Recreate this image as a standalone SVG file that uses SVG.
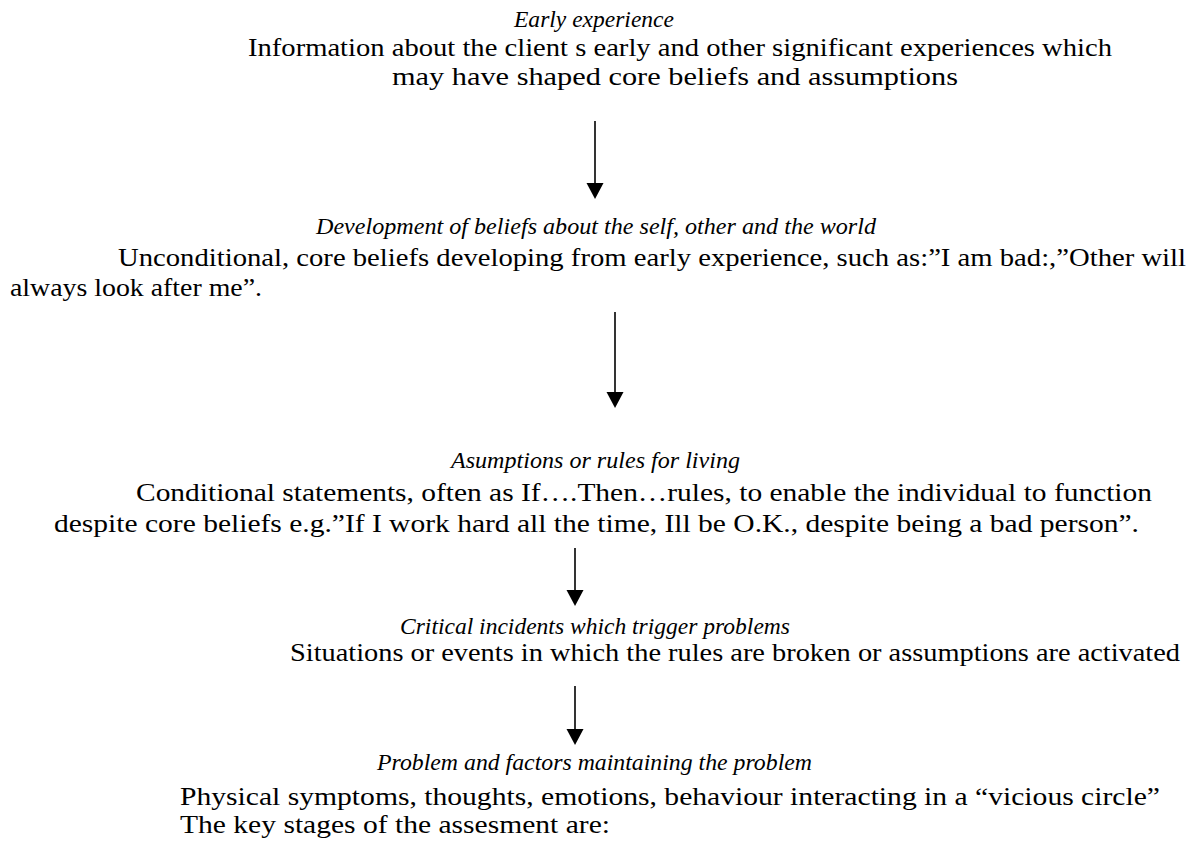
<svg xmlns="http://www.w3.org/2000/svg" width="1193" height="841" viewBox="0 0 1193 841">
<style>
.h{font-family:"Liberation Serif","Times New Roman",serif;font-style:italic;font-size:23px;fill:#000}
.b{font-family:"Liberation Serif","Times New Roman",serif;font-size:25px;fill:#000}
.t{font-family:"Liberation Serif","Times New Roman",serif;font-size:25px;fill:#000}
.c{stroke:#000;stroke-width:1.6;fill:none}
.a{fill:#000}
</style>
<rect width="1193" height="841" fill="#fff"/>
<g id="n1">
<text class="h" x="514" y="27" textLength="160" lengthAdjust="spacingAndGlyphs">Early experience</text>
<text class="b" x="248" y="56" textLength="864" lengthAdjust="spacingAndGlyphs">Information about the client s early and other significant experiences which</text>
<text class="b" x="392" y="85" textLength="566" lengthAdjust="spacingAndGlyphs">may have shaped core beliefs and assumptions</text>
</g>
<g id="n2">
<text class="h" x="316" y="234" textLength="560" lengthAdjust="spacingAndGlyphs">Development of beliefs about the self, other and the world</text>
<text class="b" x="118" y="266" textLength="1068" lengthAdjust="spacingAndGlyphs">Unconditional, core beliefs developing from early experience, such as:”I am bad:,”Other will</text>
<text class="b" x="10" y="296" textLength="252" lengthAdjust="spacingAndGlyphs">always look after me”.</text>
</g>
<g id="n3">
<text class="h" x="451" y="468" textLength="289" lengthAdjust="spacingAndGlyphs">Asumptions or rules for living</text>
<text class="b" x="136" y="501" textLength="1016" lengthAdjust="spacingAndGlyphs">Conditional statements, often as If….Then…rules, to enable the individual to function</text>
<text class="b" x="54" y="532" textLength="1085" lengthAdjust="spacingAndGlyphs">despite core beliefs e.g.”If I work hard all the time, Ill be O.K., despite being a bad person”.</text>
</g>
<g id="n4">
<text class="h" x="400" y="634" textLength="390" lengthAdjust="spacingAndGlyphs">Critical incidents which trigger problems</text>
<text class="b" x="290" y="661" textLength="890" lengthAdjust="spacingAndGlyphs">Situations or events in which the rules are broken or assumptions are activated</text>
</g>
<g id="n5">
<text class="h" x="377" y="770" textLength="435" lengthAdjust="spacingAndGlyphs">Problem and factors maintaining the problem</text>
<text class="t" x="180" y="805" textLength="980" lengthAdjust="spacingAndGlyphs">Physical symptoms, thoughts, emotions, behaviour interacting in a “vicious circle”</text>
<text class="t" x="180" y="833" textLength="430" lengthAdjust="spacingAndGlyphs">The key stages of the assesment are:</text>
</g>
<g id="connectors">
<line class="c" x1="595" y1="121" x2="595" y2="185"/>
<path class="a" d="M586.5,183 L603.5,183 L595,199 Z"/>
<line class="c" x1="615" y1="312" x2="615" y2="394"/>
<path class="a" d="M606.5,392 L623.5,392 L615,408 Z"/>
<line class="c" x1="575" y1="548" x2="575" y2="592"/>
<path class="a" d="M566.5,590 L583.5,590 L575,606 Z"/>
<line class="c" x1="575" y1="686" x2="575" y2="731"/>
<path class="a" d="M566.5,729 L583.5,729 L575,745 Z"/>
</g>
</svg>
